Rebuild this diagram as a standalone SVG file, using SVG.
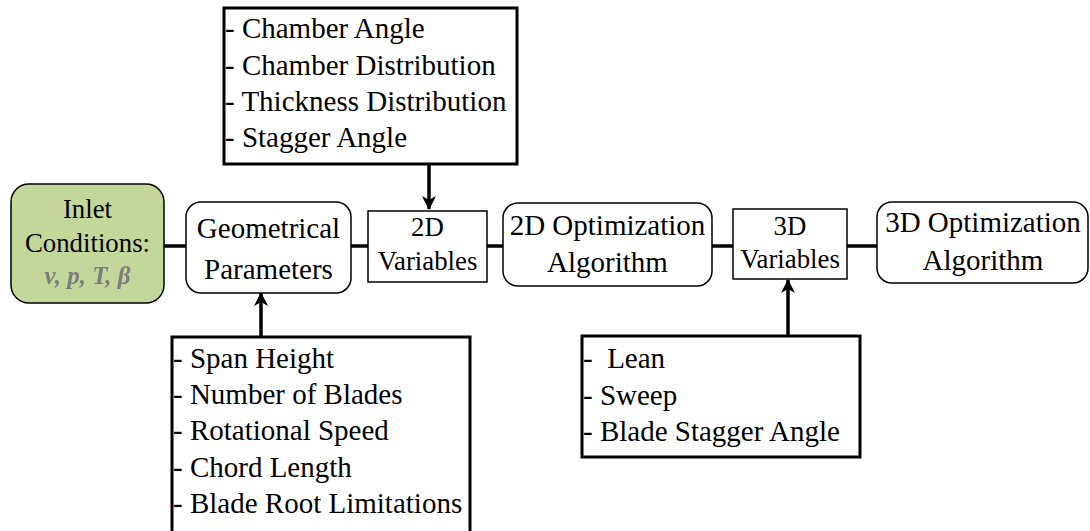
<svg xmlns="http://www.w3.org/2000/svg" width="1090" height="531" viewBox="0 0 1090 531" font-family="'Liberation Serif', 'DejaVu Serif', serif">
  <style>
    text { font-family: 'Liberation Serif', 'DejaVu Serif', serif; fill: #000; }
    .node { fill: #fff; stroke: #000; stroke-width: 1.5; }
    .inlet { fill: #c4d79b; stroke: #000; stroke-width: 1.5; }
    .list { fill: #fff; stroke: #000; stroke-width: 3; }
    .big { font-size: 29px; }
    .mid { font-size: 26.8px; }
    .c { text-anchor: middle; }
    .pre { white-space: pre; }
    .conn { stroke: #000; stroke-width: 3.5; fill: none; }
    .math { font-style: italic; font-weight: bold; fill: #7d7d7d; font-size: 25px; }
  </style>
  <defs>
    <marker id="arrow" viewBox="0 0 14 14" refX="13" refY="7" markerWidth="14" markerHeight="14" markerUnits="userSpaceOnUse" orient="auto">
      <path d="M0,0 L14,7 L0,14 L4,7 Z" fill="#000"/>
    </marker>
    <filter id="soft" x="-5%" y="-20%" width="110%" height="140%">
      <feGaussianBlur stdDeviation="0.6"/>
    </filter>
  </defs>

  <g id="connectors">
    <line class="conn" x1="164" y1="246" x2="186" y2="246"/>
    <line class="conn" x1="351" y1="246" x2="368" y2="246"/>
    <line class="conn" x1="487" y1="246" x2="503" y2="246"/>
    <line class="conn" x1="712" y1="246" x2="733" y2="246"/>
    <line class="conn" x1="847" y1="246" x2="877" y2="246"/>
    <line class="conn" x1="429" y1="164" x2="429" y2="209" marker-end="url(#arrow)"/>
    <line class="conn" x1="261" y1="337" x2="261" y2="293" marker-end="url(#arrow)"/>
    <line class="conn" x1="788" y1="336" x2="788" y2="280" marker-end="url(#arrow)"/>
  </g>

  <g id="inlet">
    <rect class="inlet" x="11" y="184" width="153" height="119" rx="18"/>
    <text class="mid c" x="87.5" y="218">Inlet</text>
    <text class="mid c" x="87.5" y="252">Conditions:</text>
    <text class="math c" x="87.5" y="284" filter="url(#soft)">v, p, T, β</text>
  </g>

  <g id="geometrical">
    <rect class="node" x="186" y="202" width="165" height="91" rx="15"/>
    <text class="big c" x="268.5" y="238">Geometrical</text>
    <text class="big c" x="268.5" y="279">Parameters</text>
  </g>

  <g id="vars2d">
    <rect class="node" x="368" y="211" width="119" height="71"/>
    <text class="mid c" x="427.5" y="236">2D</text>
    <text class="mid c" x="427.5" y="270">Variables</text>
  </g>

  <g id="opt2d">
    <rect class="node" x="503" y="203" width="209" height="83" rx="15"/>
    <text class="big c" x="607.5" y="235">2D Optimization</text>
    <text class="big c" x="607.5" y="272">Algorithm</text>
  </g>

  <g id="vars3d">
    <rect class="node" x="733" y="209" width="114" height="70"/>
    <text class="mid c" x="790" y="235">3D</text>
    <text class="mid c" x="790" y="268">Variables</text>
  </g>

  <g id="opt3d">
    <rect class="node" x="877" y="202" width="211" height="81" rx="15"/>
    <text class="big c" x="983" y="232">3D Optimization</text>
    <text class="big c" x="983" y="270">Algorithm</text>
  </g>

  <g id="params2d">
    <rect class="list" x="224" y="8" width="293" height="156"/>
    <text class="big" x="225" y="38">- Chamber Angle</text>
    <text class="big" x="225" y="75">- Chamber Distribution</text>
    <text class="big" x="225" y="111">- Thickness Distribution</text>
    <text class="big" x="225" y="147">- Stagger Angle</text>
  </g>

  <g id="params-geom">
    <rect class="list" x="172" y="337" width="298" height="205"/>
    <text class="big" x="173" y="368">- Span Height</text>
    <text class="big" x="173" y="404">- Number of Blades</text>
    <text class="big" x="173" y="440">- Rotational Speed</text>
    <text class="big" x="173" y="477">- Chord Length</text>
    <text class="big" x="173" y="513">- Blade Root Limitations</text>
  </g>

  <g id="params3d">
    <rect class="list" x="582" y="336" width="278" height="121"/>
    <text class="big pre" x="583" y="368">-  Lean</text>
    <text class="big" x="583" y="405">- Sweep</text>
    <text class="big" x="583" y="441">- Blade Stagger Angle</text>
  </g>
</svg>
